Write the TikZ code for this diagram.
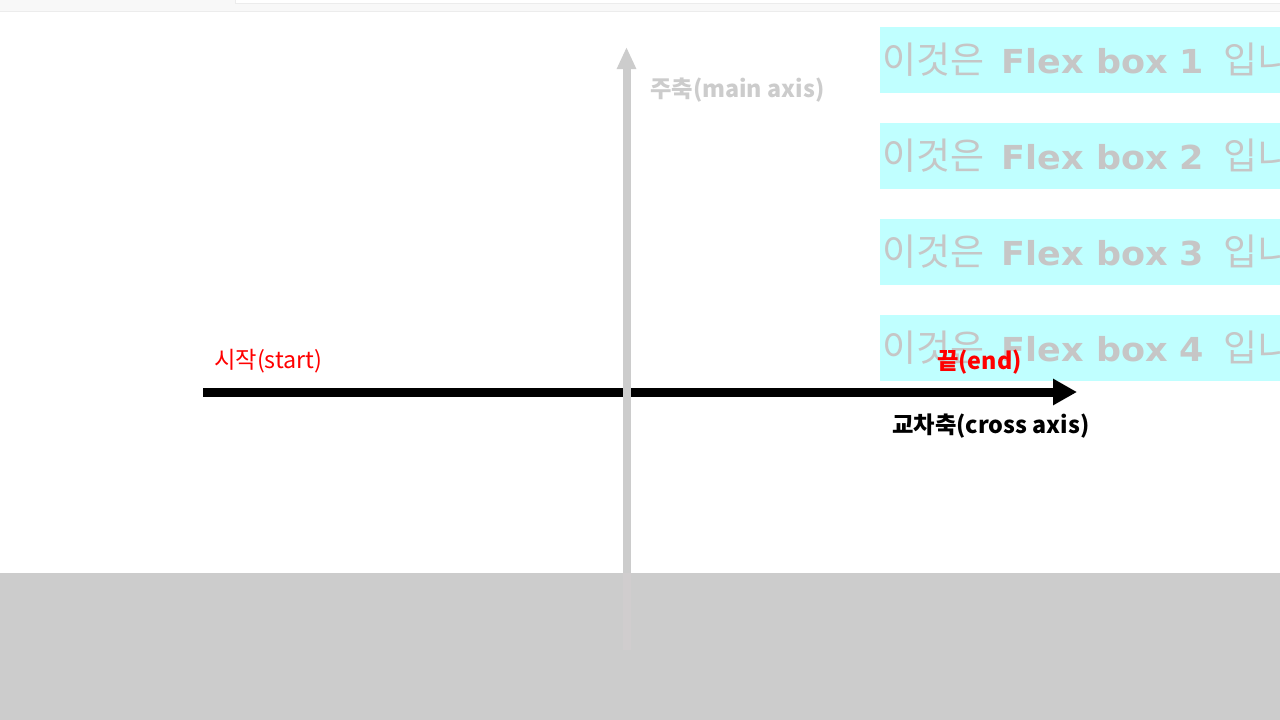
\documentclass[tikz,border=0pt]{standalone}
\usepackage{fontspec}
\usetikzlibrary{arrows.meta}
\setmainfont{DejaVu Sans}
\newfontfamily\kr{Noto Sans CJK KR}
\newfontfamily\latbox{DejaVu Sans}[FakeStretch=1.06]
\definecolor{flexcyan}{RGB}{192,255,255}
\definecolor{boxgray}{RGB}{198,198,198}
\definecolor{axisgray}{RGB}{204,204,204}
\definecolor{bandgray}{RGB}{204,204,204}
\definecolor{bandline}{RGB}{208,205,206}
\definecolor{topstrip}{RGB}{248,248,248}
\definecolor{topline}{RGB}{236,236,236}
\definecolor{pure red}{RGB}{255,0,0}
\newcommand{\krbox}[1]{{\kr\fontsize{37pt}{40pt}\selectfont #1}}
\newcommand{\latb}[1]{{\latbox\bfseries #1}}
\tikzset{
  flexbox/.style={fill=flexcyan, draw=none, minimum width=400pt, minimum height=66pt, inner sep=0pt, anchor=north west},
  flextext/.style={text=boxgray, inner sep=0pt, anchor=base west, font=\fontsize{33pt}{40pt}\selectfont},
  lbl/.style={inner sep=0pt, anchor=base west, font=\kr\fontsize{23.3pt}{26pt}\selectfont},
  lblbold/.style={lbl, font=\kr\bfseries\fontsize{23.3pt}{26pt}\selectfont},
  crossarrow/.style={line width=9pt, black, -{Triangle[length=24pt,width=25pt]}},
  mainarrow/.style={line width=8pt, axisgray, -{Triangle[length=22pt,width=18pt]}},
}
\begin{document}
\begin{tikzpicture}[x=1pt,y=-1pt]
\useasboundingbox (0,0) rectangle (1280,720);
\clip (0,0) rectangle (1280,720);
\fill[white] (0,0) rectangle (1280,720);
% top browser strip
\fill[topstrip] (0,0) rectangle (1280,11);
\draw[topline, line width=1pt] (0,11.5) -- (1280,11.5);
\draw[topline, line width=1pt, fill=white] (235.5,-5) rectangle (1290,3);
% flex boxes
\node[flexbox] (b1) at (880,27) {};
\node[flexbox] (b2) at (880,123) {};
\node[flexbox] (b3) at (880,219) {};
\node[flexbox] (b4) at (880,315) {};
\node[flextext] (t1) at (882,73) {\krbox{이것은}\hspace{7pt} \latb{Flex box 1}\hspace{9pt} \krbox{입니다}};
\node[flextext] (t2) at (882,169) {\krbox{이것은}\hspace{7pt} \latb{Flex box 2}\hspace{9pt} \krbox{입니다}};
\node[flextext] (t3) at (882,265) {\krbox{이것은}\hspace{7pt} \latb{Flex box 3}\hspace{9pt} \krbox{입니다}};
\node[flextext] (t4) at (882,361) {\krbox{이것은}\hspace{7pt} \latb{Flex box 4}\hspace{9pt} \krbox{입니다}};
% bottom band
\fill[bandgray] (0,573) rectangle (1280,720);
% cross axis arrow
\coordinate (cs) at (203,392);
\coordinate (ce) at (1077,392);
\draw[crossarrow] (cs) -- (ce);
% main axis arrow
\coordinate (ms) at (626.5,650);
\coordinate (mb) at (626.5,573);
\coordinate (me) at (626.5,47);
\draw[mainarrow] (ms) -- (me);
\draw[line width=8pt, bandline] (mb) -- (ms);
% labels
\node[lblbold, text=axisgray] (lmain) at (650,97) {주축(main axis)};
\node[lbl, text=pure red] (lstart) at (214,368) {시작(start)};
\node[lblbold, text=pure red] (lend) at (937,369) {끝(end)};
\node[lblbold, text=black] (lcross) at (892,433) {교차축(cross axis)};
\end{tikzpicture}
\end{document}
